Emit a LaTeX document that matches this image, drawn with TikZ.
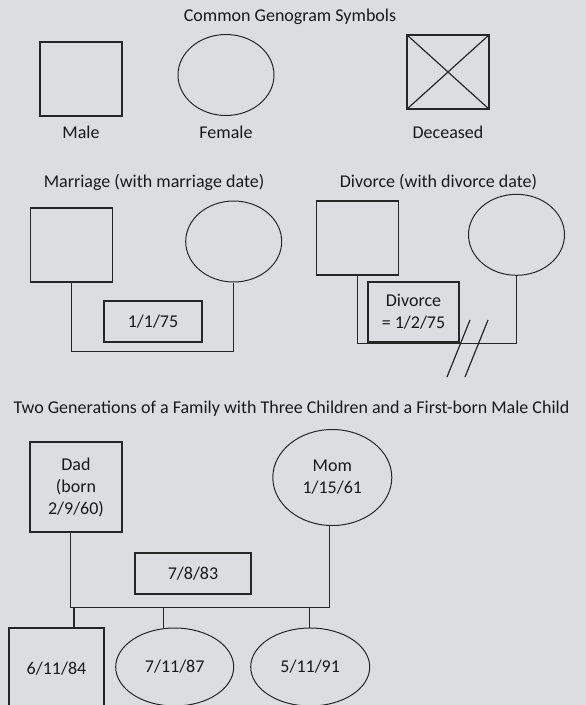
\documentclass[tikz,border=0pt]{standalone}
\usepackage{fontspec}
\setmainfont{Carlito}
\usetikzlibrary{shapes.geometric}
\definecolor{bgc}{RGB}{220,221,223}
\definecolor{ink}{RGB}{38,38,38}
\definecolor{txt}{RGB}{25,25,25}
\tikzset{
  lbl/.style={inner sep=0pt, text=txt, align=center},
  sq/.style={draw=ink, line width=1.2pt, rectangle, inner sep=0pt, text=txt, align=center},
  ov/.style={draw=ink, line width=1pt, ellipse, inner sep=0pt, text=txt, align=center},
  conn/.style={draw=ink, line width=1.2pt},
}
\begin{document}
\begin{tikzpicture}[x=1pt,y=-1pt,font=\fontsize{18}{22}\selectfont]
\clip (0,0) rectangle (586,705);
\fill[bgc] (0,0) rectangle (586,705);

% --- Common symbols
\node[lbl] (t1) at (290,17) {Common Genogram Symbols};
\node[sq, minimum width=82pt, minimum height=74pt] (male) at (81,79) {};
\node[lbl] (malel) at (81,132) {Male};
\node[ov, minimum width=96pt, minimum height=81pt] (female) at (226,75) {};
\node[lbl] (femalel) at (226,132) {Female};
\node[sq, minimum width=82pt, minimum height=74pt] (dec) at (448,72) {};
\draw[conn] (dec.north west) -- (dec.south east);
\draw[conn] (dec.south west) -- (dec.north east);
\node[lbl] (decl) at (448,132) {Deceased};

% --- Marriage
\node[lbl] (t2) at (154,182) {Marriage (with marriage date)};
\node[sq, minimum width=82pt, minimum height=74pt] (msq) at (71.5,245) {};
\node[ov, minimum width=96pt, minimum height=81pt] (mell) at (233.7,241.5) {};
\node[sq, minimum width=98pt, minimum height=41pt] (mbox) at (153,321.5) {1/1/75};
\draw[conn] (msq.south) -- ++(0,69) -| (mell.south);

% --- Divorce
\node[lbl] (t3) at (438.5,182) {Divorce (with divorce date)};
\node[sq, minimum width=82pt, minimum height=74pt] (dsq) at (357.5,238) {};
\node[ov, minimum width=96pt, minimum height=81pt] (dell) at (516.5,234.8) {};
\node[sq, minimum width=91pt, minimum height=60pt] (dbox) at (413.5,312) {Divorce\\= 1/2/75};
\draw[conn] (dsq.south) -- ++(0,68) -| (dell.south);
\coordinate (s1a) at (470,320);
\coordinate (s1b) at (447,377);
\coordinate (s2a) at (488,320);
\coordinate (s2b) at (465,377);
\draw[conn] (s1a) -- (s1b);
\draw[conn] (s2a) -- (s2b);

% --- Family
\node[lbl] (t4) at (291.5,409) {Two Generations of a Family with Three Children and a First-born Male Child};
\node[sq, minimum width=92pt, minimum height=90pt] (dad) at (76,487) {Dad\\(born\\2/9/60)};
\node[ov, minimum width=119pt, minimum height=96pt] (mom) at (332.3,477.5) {Mom\\1/15/61};
\node[sq, minimum width=116pt, minimum height=41pt] (mbox2) at (193,573.5) {7/8/83};
\coordinate (busL) at (70.3,607.3);
\coordinate (busR) at (329.7,607.3);
\draw[conn] (dad.south -| busL) -- (busL) -- (busR) -- (mom.south -| busR);

\node[sq, minimum width=95pt, minimum height=82pt] (c1) at (56.5,669) {6/11/84};
\node[ov, minimum width=118pt, minimum height=78pt] (c2) at (174.7,667) {7/11/87};
\node[ov, minimum width=119pt, minimum height=78pt] (c3) at (310.2,667) {5/11/91};
\coordinate (j1) at (74,607.3);
\coordinate (j2) at (163.7,607.3);
\coordinate (j3) at (309.7,607.3);
\draw[conn] (j1) -- (j1 |- c1.north);
\draw[conn] (j2) -- (j2 |- c2.north);
\draw[conn] (j3) -- (j3 |- c3.north);
\end{tikzpicture}
\end{document}
